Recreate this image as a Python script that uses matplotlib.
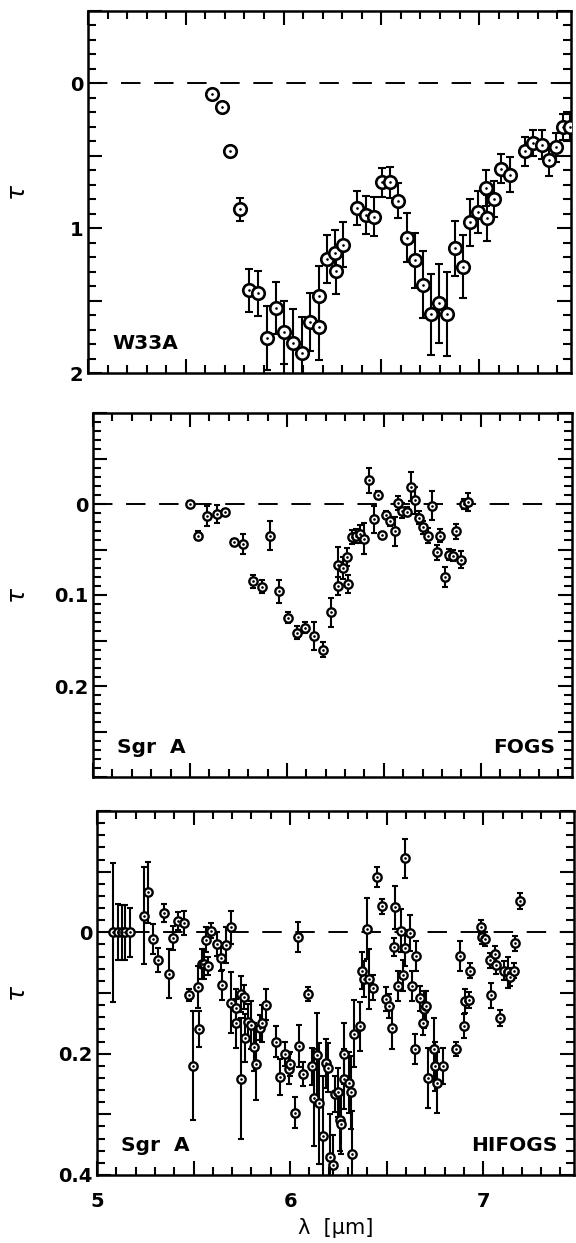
import numpy as np
import matplotlib.pyplot as plt
from matplotlib.ticker import MultipleLocator

plt.rcParams['font.family'] = ['DejaVu Sans']

# W33A
w_lam = [5.633, 5.683, 5.728, 5.776, 5.823, 5.871, 5.916, 5.960, 6.004, 6.050,
         6.093, 6.137, 6.180, 6.180, 6.220, 6.264, 6.268, 6.302, 6.378, 6.422,
         6.464, 6.502, 6.546, 6.587, 6.629, 6.673, 6.715, 6.755, 6.796, 6.838,
         6.876, 6.920, 6.952, 6.996, 7.038, 7.034, 7.076, 7.114, 7.158, 7.234,
         7.278, 7.320, 7.357, 7.395, 7.430, 7.465]
w_tau = [0.074, 0.166, 0.47, 0.87, 1.43, 1.45, 1.76, 1.55, 1.72, 1.795,
         1.86, 1.65, 1.47, 1.68, 1.21, 1.17, 1.295, 1.115, 0.86, 0.91,
         0.92, 0.684, 0.684, 0.81, 1.065, 1.22, 1.39, 1.595, 1.52, 1.595,
         1.14, 1.265, 0.96, 0.885, 0.93, 0.72, 0.80, 0.59, 0.63, 0.47,
         0.41, 0.424, 0.528, 0.44, 0.30, 0.304]
w_err = [0.01, 0.01, 0.04, 0.08, 0.15, 0.155, 0.22, 0.18, 0.22, 0.24,
         0.25, 0.20, 0.21, 0.23, 0.165, 0.155, 0.16, 0.155, 0.12, 0.13,
         0.135, 0.10, 0.11, 0.12, 0.17, 0.19, 0.23, 0.28, 0.27, 0.29,
         0.19, 0.22, 0.165, 0.145, 0.16, 0.125, 0.125, 0.10, 0.12, 0.10,
         0.09, 0.10, 0.11, 0.10, 0.09, 0.09]

# Sgr A, FOGS
f_lam = [5.498, 5.542, 5.589, 5.638, 5.683, 5.728, 5.774, 5.825, 5.872, 5.915,
         5.960, 6.008, 6.051, 6.094, 6.140, 6.185, 6.226, 6.264, 6.264, 6.287,
         6.309, 6.313, 6.334, 6.357, 6.377, 6.400, 6.423, 6.447, 6.468, 6.490,
         6.513, 6.532, 6.555, 6.574, 6.594, 6.617, 6.640, 6.660, 6.683, 6.702,
         6.726, 6.749, 6.772, 6.790, 6.815, 6.834, 6.857, 6.872, 6.896, 6.913,
         6.932]
f_tau = [0.0, 0.0347, 0.0128, 0.011, 0.009, 0.042, 0.044, 0.085, 0.091, 0.035,
         0.096, 0.125, 0.1416, 0.1358, 0.145, 0.160, 0.119, 0.0675, 0.090, 0.070,
         0.058, 0.0876, 0.0365, 0.035, 0.033, 0.038, -0.026, 0.017, -0.010, 0.034,
         0.0117, 0.019, 0.030, -0.001, 0.0073, 0.0084, -0.019, -0.004, 0.015, 0.0255,
         0.0347, 0.0018, 0.053, 0.035, 0.080, 0.0555, 0.0566, 0.030, 0.061, 0.0,
         -0.002]
f_err = [0.003, 0.005, 0.011, 0.010, 0.004, 0.004, 0.011, 0.007, 0.007, 0.016,
         0.0125, 0.006, 0.007, 0.006, 0.015, 0.008, 0.016, 0.020, 0.010, 0.012,
         0.010, 0.010, 0.008, 0.008, 0.010, 0.017, 0.014, 0.015, 0.004, 0.002,
         0.004, 0.005, 0.016, 0.008, 0.008, 0.005, 0.016, 0.015, 0.007, 0.007,
         0.008, 0.016, 0.008, 0.007, 0.011, 0.006, 0.006, 0.008, 0.009, 0.006,
         0.010]

# Sgr A, HIFOGS
h_lam = [5.083, 5.108, 5.127, 5.146, 5.169, 5.241, 5.264, 5.292, 5.317, 5.345,
         5.374, 5.393, 5.421, 5.450, 5.474, 5.497, 5.522, 5.528, 5.545, 5.554,
         5.573, 5.567, 5.592, 5.620, 5.640, 5.649, 5.668, 5.693, 5.694, 5.719,
         5.721, 5.744, 5.748, 5.759, 5.768, 5.782, 5.800, 5.814, 5.825, 5.842,
         5.854, 5.877, 5.928, 5.949, 5.972, 5.994, 6.000, 6.025, 6.042, 6.047,
         6.066, 6.091, 6.114, 6.123, 6.138, 6.148, 6.171, 6.186, 6.195, 6.205,
         6.222, 6.233, 6.247, 6.256, 6.266, 6.281, 6.281, 6.304, 6.313, 6.319,
         6.332, 6.360, 6.370, 6.380, 6.398, 6.408, 6.427, 6.452, 6.474, 6.499,
         6.512, 6.526, 6.537, 6.545, 6.560, 6.573, 6.584, 6.594, 6.594, 6.620,
         6.632, 6.651, 6.645, 6.670, 6.687, 6.693, 6.702, 6.715, 6.744, 6.750,
         6.763, 6.791, 6.860, 6.882, 6.901, 6.905, 6.924, 6.930, 6.987, 6.996,
         7.010, 7.034, 7.040, 7.063, 7.066, 7.085, 7.106, 7.129, 7.139, 7.158,
         7.167, 7.190]
h_tau = [0.0, 0.0, 0.0, 0.0, 0.0, -0.027, -0.066, 0.011, 0.046, -0.0325,
         0.068, 0.0095, -0.0185, -0.0157, 0.103, 0.220, 0.090, 0.159, 0.052, 0.052,
         0.056, 0.012, -0.003, 0.019, 0.043, 0.087, 0.021, -0.008, 0.116, 0.124,
         0.150, 0.102, 0.241, 0.106, 0.174, 0.148, 0.1525, 0.189, 0.217, 0.157,
         0.150, 0.119, 0.180, 0.238, 0.200, 0.225, 0.217, 0.297, 0.008, 0.187,
         0.234, 0.102, 0.221, 0.273, 0.203, 0.282, 0.336, 0.216, 0.223, 0.370,
         0.384, 0.266, 0.264, 0.310, 0.316, 0.200, 0.242, 0.248, 0.264, 0.365,
         0.167, 0.155, 0.063, 0.077, -0.006, 0.077, 0.091, -0.091, -0.043, 0.110,
         0.122, 0.157, 0.024, -0.041, 0.088, -0.003, 0.071, -0.122, 0.026, 0.001,
         0.088, 0.039, 0.192, 0.109, 0.150, 0.127, 0.122, 0.240, 0.192, 0.221,
         0.248, 0.220, 0.192, 0.039, 0.154, 0.113, 0.112, 0.063, -0.009, 0.007,
         0.011, 0.046, 0.104, 0.036, 0.054, 0.141, 0.063, 0.066, 0.074, 0.063,
         0.018, -0.052]
h_err = [0.115, 0.046, 0.045, 0.045, 0.040, 0.080, 0.050, 0.025, 0.020, 0.015,
         0.040, 0.020, 0.015, 0.020, 0.010, 0.090, 0.035, 0.030, 0.025, 0.025,
         0.015, 0.020, 0.012, 0.020, 0.020, 0.025, 0.030, 0.027, 0.050, 0.030,
         0.040, 0.030, 0.100, 0.020, 0.040, 0.030, 0.040, 0.040, 0.060, 0.020,
         0.030, 0.025, 0.025, 0.030, 0.020, 0.025, 0.020, 0.025, 0.025, 0.035,
         0.020, 0.012, 0.030, 0.080, 0.070, 0.100, 0.100, 0.040, 0.040, 0.070,
         0.050, 0.030, 0.040, 0.050, 0.050, 0.050, 0.050, 0.050, 0.060, 0.070,
         0.055, 0.040, 0.030, 0.030, 0.050, 0.050, 0.020, 0.016, 0.012, 0.020,
         0.020, 0.035, 0.015, 0.035, 0.025, 0.035, 0.025, 0.032, 0.030, 0.030,
         0.025, 0.025, 0.025, 0.020, 0.020, 0.030, 0.025, 0.050, 0.050, 0.040,
         0.050, 0.030, 0.012, 0.025, 0.020, 0.020, 0.013, 0.013, 0.012, 0.012,
         0.012, 0.012, 0.020, 0.013, 0.015, 0.013, 0.015, 0.025, 0.015, 0.013,
         0.012, 0.013]

W, H = 576, 1243
fig = plt.figure(figsize=(W/100, H/100), dpi=100)

def make_ax(l, r, t, b):
    return fig.add_axes([l/W, 1 - b/H, (r - l)/W, (b - t)/H])

def y_fmt(labels):
    return lambda v, pos: ('%g' % round(v, 3)) if any(abs(v - L) < 1e-6 for L in labels) else ''

panels = [
    dict(box=(88, 571, 11, 373), lam=w_lam, tau=w_tau, err=w_err, ylim=(2, -0.5),
         major=0.5, minor=0.1, labels=[0, 1, 2], ms=9, mew=1.9, cap=3.0,
         left='W33A', right=None),
    dict(box=(93, 572, 413, 777), lam=f_lam, tau=f_tau, err=f_err, ylim=(0.3, -0.1),
         major=0.05, minor=0.01, labels=[0, 0.1, 0.2], ms=6, mew=1.7, cap=2.4,
         left='Sgr  A', right='FOGS'),
    dict(box=(97, 574, 811, 1175), lam=h_lam, tau=h_tau, err=h_err, ylim=(0.4, -0.2),
         major=0.1, minor=0.02, labels=[0, 0.2, 0.4], ms=6, mew=1.7, cap=2.4,
         left='Sgr  A', right='HIFOGS'),
]

for i, p in enumerate(panels):
    ax = make_ax(*p['box'])
    ax.axhline(0, color='k', lw=1.4, dashes=(10, 7), zorder=1)

    ax.errorbar(p['lam'], p['tau'], yerr=p['err'], fmt='none', ecolor='k',
                elinewidth=1.5, capsize=p['cap'], capthick=1.5, zorder=2)
    ax.plot(p['lam'], p['tau'], 'o', ms=p['ms'], mfc='white', mec='k',
            mew=p['mew'], zorder=3)
    ax.plot(p['lam'], p['tau'], '.', ms=1.8, color='k', zorder=4)

    ax.xaxis.set_major_locator(MultipleLocator(0.5))
    ax.xaxis.set_minor_locator(MultipleLocator(0.1))
    ax.yaxis.set_major_locator(MultipleLocator(p['major']))
    ax.yaxis.set_minor_locator(MultipleLocator(p['minor']))
    ax.set_xlim(5, 7.47)
    ax.set_ylim(*p['ylim'])
    ax.tick_params(which='both', direction='in', top=True, right=True,
                   width=1.5, labelsize=14)
    ax.tick_params(which='major', length=10)
    ax.tick_params(which='minor', length=5.5)

    ax.yaxis.set_major_formatter(y_fmt(p['labels']))
    for t in ax.get_yticklabels():
        t.set_fontweight('bold')
    ax.set_ylabel(r'$\tau$', fontsize=18)
    ax.yaxis.set_label_coords(-(p['box'][0] - 30) / (p['box'][1] - p['box'][0]), 0.5)

    if i == 2:
        ax.xaxis.set_major_formatter(
            lambda v, pos: ('%d' % round(v)) if abs(v - round(v)) < 1e-6 else '')
        for t in ax.get_xticklabels():
            t.set_fontweight('bold')
        ax.tick_params(axis='x', pad=12)
        ax.set_xlabel('λ  [μm]', fontsize=15, labelpad=5)
    else:
        ax.set_xticklabels([])

    for s in ax.spines.values():
        s.set_linewidth(1.8)

    ax.text(0.05, 0.055, p['left'], transform=ax.transAxes, fontsize=14.5,
            fontweight='bold', ha='left', va='bottom')
    if p['right']:
        ax.text(0.965, 0.055, p['right'], transform=ax.transAxes, fontsize=14.5,
                fontweight='bold', ha='right', va='bottom')

fig.savefig('out.png', dpi=100)
